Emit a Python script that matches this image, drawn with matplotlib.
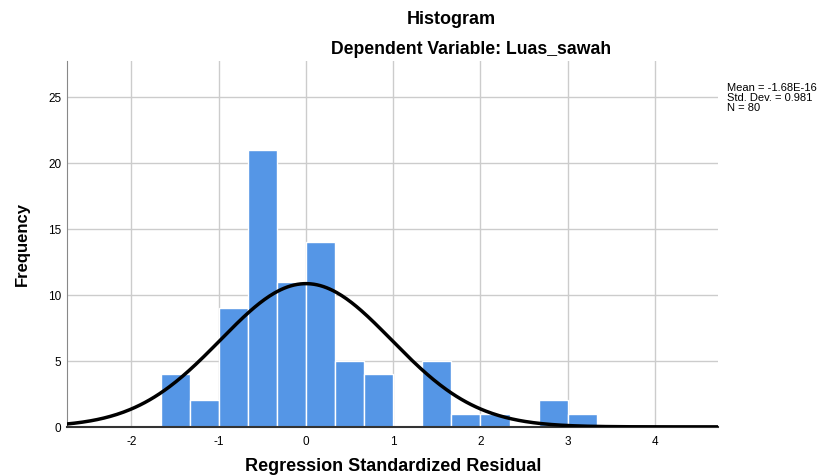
import numpy as np
import matplotlib.pyplot as plt

plt.rcParams['font.family'] = ['Liberation Sans', 'DejaVu Sans']
plt.rcParams['axes.unicode_minus'] = False

# histogram data
bin_edges = [k / 3 for k in range(-5, 11)]
counts = [4, 2, 9, 21, 11, 14, 5, 4, 0, 5, 1, 1, 0, 2, 1]
mean = -1.68e-16
std = 0.981
n = 80

fig = plt.figure(figsize=(8.26, 4.77), dpi=100)
ax = fig.add_axes([0.081, 0.103, 0.788, 0.767])

lefts = bin_edges[:-1]
widths = np.diff(bin_edges)
ax.bar(lefts, counts, width=widths, align='edge', color='#5596e6',
       edgecolor='white', linewidth=1, zorder=2)

# normal curve scaled to counts
xs = np.linspace(-2.75, 4.75, 400)
bw = widths[0]
ys = n * bw / (std * np.sqrt(2 * np.pi)) * np.exp(-0.5 * ((xs - mean) / std) ** 2)
ax.plot(xs, ys, color='black', linewidth=2.5, zorder=3)

ax.set_xlim(-2.74, 4.72)
ax.set_ylim(0, 27.7)
ax.set_xticks([-2, -1, 0, 1, 2, 3, 4])
ax.set_yticks([0, 5, 10, 15, 20, 25])
ax.grid(True, color='#cccccc', linewidth=1, zorder=0)
ax.set_axisbelow(True)
ax.tick_params(length=0, labelsize=8.5, pad=6)
ax.tick_params(axis='y', pad=4)

for s in ['top', 'right']:
    ax.spines[s].set_visible(False)
ax.spines['left'].set_color('#888888')
ax.spines['bottom'].set_color('#333333')
ax.spines['bottom'].set_linewidth(1.5)

fig.text(0.476, 0.023, 'Regression Standardized Residual', ha='center',
         va='center', fontsize=13, fontweight='bold')
fig.text(0.027, 0.488, 'Frequency', ha='center', va='center', rotation=90,
         fontsize=12, fontweight='bold')

fig.text(0.546, 0.960, 'Histogram', ha='center', va='center',
         fontsize=13, fontweight='bold')
fig.text(0.570, 0.897, 'Dependent Variable: Luas_sawah', ha='center',
         va='center', fontsize=12.7, fontweight='bold')

fig.text(0.880, 0.825, 'Mean = -1.68E-16\nStd. Dev. = 0.981\nN = 80',
         ha='left', va='top', fontsize=8, linespacing=0.95)

fig.savefig('out.png', dpi=100)
